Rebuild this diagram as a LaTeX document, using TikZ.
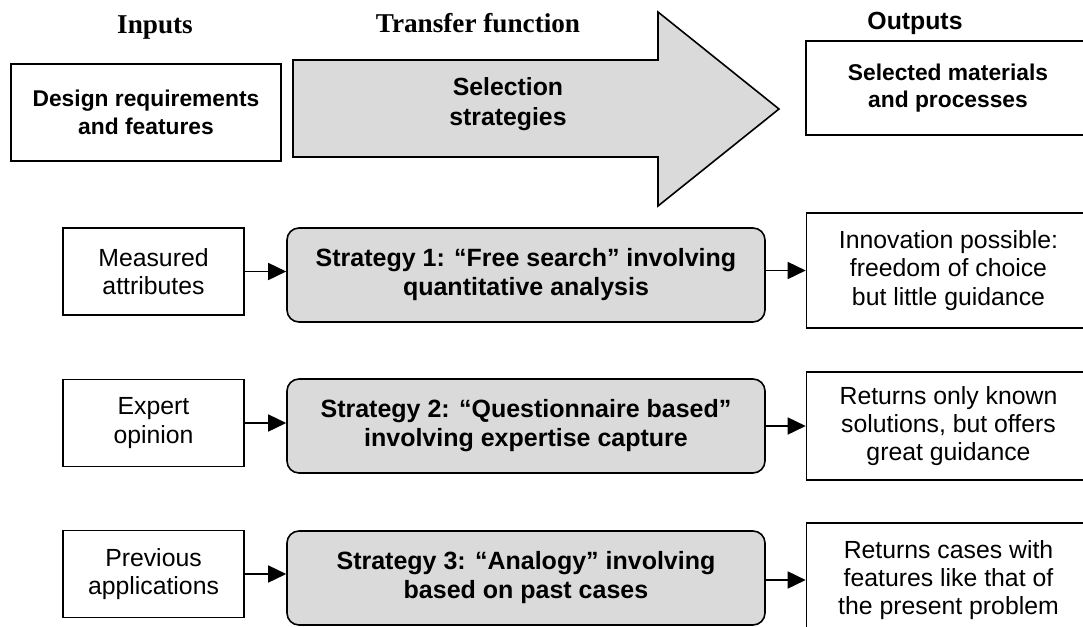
\documentclass[tikz,border=0pt]{standalone}
\usepackage{fontspec}
\setmainfont{Liberation Sans}
\newfontfamily\headfont{Liberation Serif}
\usepackage{xcolor}
\usepackage{tikz}
\usetikzlibrary{arrows.meta}
\definecolor{boxgray}{RGB}{218,218,218}

\tikzset{
  topbox/.style={draw,line width=1pt,align=center,inner sep=0pt,
    font=\fontsize{11.4}{13.8}\selectfont\bfseries},
  inbox/.style={draw,line width=0.8pt,align=center,inner sep=0pt,
    minimum width=90.5pt,minimum height=43.5pt,
    font=\fontsize{12.4}{14.2}\selectfont},
  stratbox/.style={draw,line width=0.8pt,fill=boxgray,rounded corners=6pt,
    align=center,inner sep=0pt,minimum width=239pt,minimum height=47pt,
    font=\fontsize{12.5}{14.5}\selectfont\bfseries},
  outbox/.style={draw,line width=0.8pt,align=center,inner sep=0pt,
    minimum width=142pt,font=\fontsize{12.4}{14.2}\selectfont},
  head/.style={anchor=base,font=\headfont\fontsize{13.6}{16}\selectfont\bfseries}
}

\begin{document}
\begin{tikzpicture}[x=0.5pt,y=-0.5pt,>={Triangle[length=9pt,width=8.5pt]}]
\path[use as bounding box,clip] (0,0) rectangle (1083,627);

% headings
\node[head] (hin) at (155,33) {Inputs};
\node[head] (htf) at (478,32) {Transfer function};
\node[anchor=base,font=\fontsize{12.4}{15}\selectfont\bfseries] (hout) at (915,29) {Outputs};

% top row
\node[topbox,minimum width=135pt,minimum height=48.5pt] (design) at (146,112.5)
  {Design requirements\\and features};
\draw[line width=0.8pt,fill=boxgray] (293,60) -- (658,60) -- (658,12) -- (779,109)
  -- (658,206) -- (658,157) -- (293,157) -- cycle;
\node[align=center,font=\fontsize{12.4}{15}\selectfont\bfseries] (sel) at (508,104)
  {Selection\\strategies};
\node[topbox,minimum width=142pt,minimum height=47pt] (selout) at (948,88)
  {Selected materials\\and processes};

% strategies
\node[inbox] (meas) at (153.5,271.5) {Measured\\attributes};
\node[stratbox] (s1) at (526,275) {Strategy 1: “Free search” involving\\quantitative analysis};
\node[outbox,minimum height=57.5pt] (o1) at (948.5,270.5)
  {Innovation possible:\\freedom of choice\\but little guidance};

\node[inbox] (expert) at (153.5,423) {Expert\\opinion};
\node[stratbox] (s2) at (526,426) {Strategy 2: “Questionnaire based”\\involving expertise capture};
\node[outbox,minimum height=54pt] (o2) at (948.5,426)
  {Returns only known\\solutions, but offers\\great guidance};

\node[inbox] (prev) at (153.5,574) {Previous\\applications};
\node[stratbox] (s3) at (526,578) {Strategy 3: “Analogy” involving\\based on past cases};
\node[outbox,minimum height=57pt] (o3) at (948.5,580)
  {Returns cases with\\features like that of\\the present problem};

\draw[line width=0.8pt,->] (meas.east) -- (meas.east -| s1.west);
\draw[line width=0.8pt,->] (o1.west -| s1.east) -- (o1.west);
\draw[line width=0.8pt,->] (expert.east) -- (expert.east -| s2.west);
\draw[line width=0.8pt,->] (o2.west -| s2.east) -- (o2.west);
\draw[line width=0.8pt,->] (prev.east) -- (prev.east -| s3.west);
\draw[line width=0.8pt,->] (o3.west -| s3.east) -- (o3.west);
\end{tikzpicture}
\end{document}
